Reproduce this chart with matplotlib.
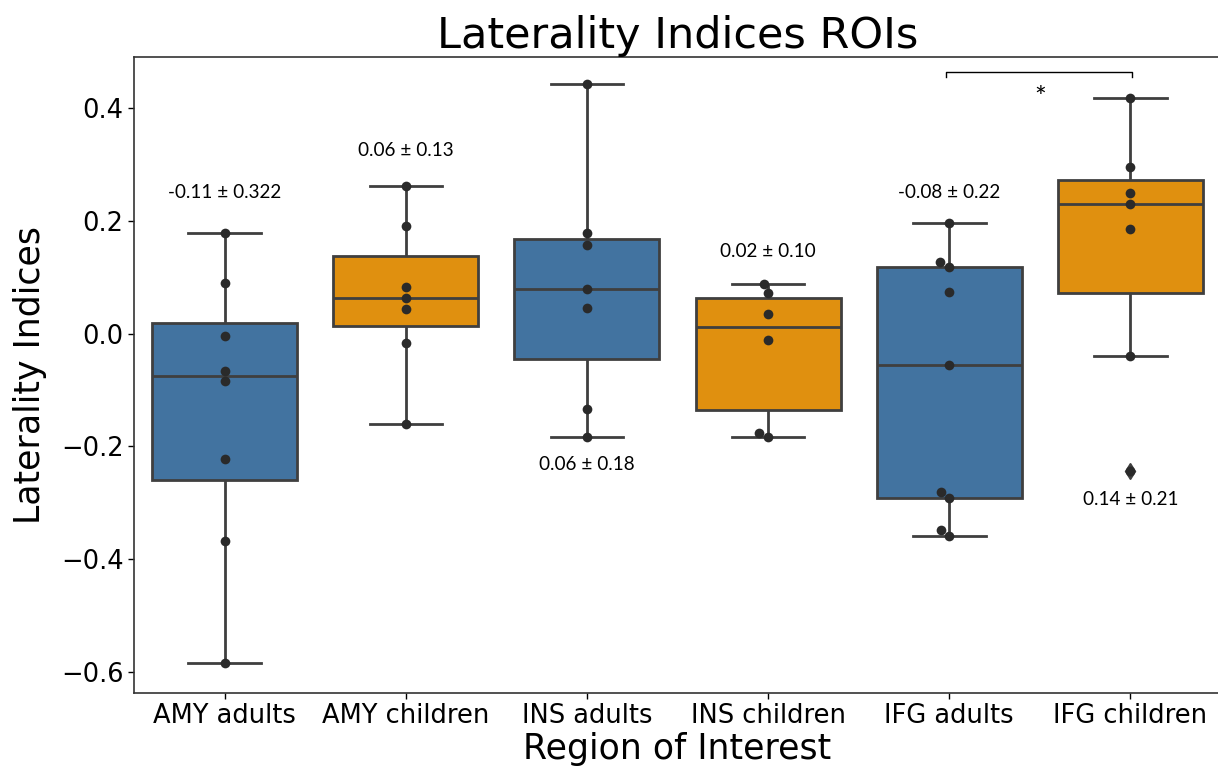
import numpy as np
import pandas as pd
import matplotlib
matplotlib.use('Agg')
import matplotlib.pyplot as plt
import seaborn as sns

# values
rois = ['AMY adults', 'AMY children', 'INS adults', 'INS children', 'IFG adults', 'IFG children']
amy_adults = [0.179, 0.090, -0.004, -0.066, -0.084, -0.223, -0.369, -0.584]
amy_children = [0.262, 0.191, 0.083, 0.063, 0.043, -0.017, -0.161]
ins_adults = [0.444, 0.179, 0.157, 0.079, 0.045, -0.134, -0.183]
ins_children = [0.089, 0.073, 0.035, -0.011, -0.176, -0.184]
ifg_adults = [0.196, 0.127, 0.119, 0.074, -0.055, -0.281, -0.291, -0.349, -0.359]
ifg_children = [0.418, 0.295, 0.250, 0.230, 0.185, -0.040, -0.243]

stats_text = ['-0.11 \u00b1 0.322', '0.06 \u00b1 0.13', '0.06 \u00b1 0.18',
              '0.02 \u00b1 0.10', '-0.08 \u00b1 0.22', '0.14 \u00b1 0.21']
stats_y = [0.250, 0.326, -0.233, 0.145, 0.250, -0.295]

blue = '#4273a0'
orange = '#e0900f'
colors = [blue, orange, blue, orange, blue, orange]

groups = [amy_adults, amy_children, ins_adults, ins_children, ifg_adults, ifg_children]
rows = []
for name, vals in zip(rois, groups):
    for v in vals:
        rows.append({'roi': name, 'li': v})
df = pd.DataFrame(rows)

fig = plt.figure(figsize=(12.18, 7.73), dpi=100)
ax = fig.add_axes([0.110, 0.1035, 0.8925, 0.8231])

sns.boxplot(data=df, x='roi', y='li', hue='roi', order=rois, hue_order=rois,
            palette=colors, saturation=1, linecolor='#3f3f3f', linewidth=2,
            width=0.8, legend=False, ax=ax,
            flierprops=dict(marker='d', markersize=8, markerfacecolor='#3f3f3f',
                            markeredgecolor='#3f3f3f'))
sns.swarmplot(data=df, x='roi', y='li', order=rois, color='#2a2a2a', size=7, ax=ax)

for i, (t, y) in enumerate(zip(stats_text, stats_y)):
    ax.text(i, y, t, ha='center', va='center', fontsize=13.6, family='Lato', color='black')

# significance bracket between IFG adults and IFG children
ax.plot([3.98, 3.98, 5.01, 5.01], [0.455, 0.464, 0.464, 0.455], color='black', lw=1)
ax.text(4.5, 0.417, '*', ha='center', va='center', fontsize=20, family='Lato')

ax.set_ylim(-0.638, 0.4916)
ax.set_xlim(-0.5, 5.5)
ax.set_yticks([-0.6, -0.4, -0.2, 0.0, 0.2, 0.4])
ax.tick_params(labelsize=18.5, length=4, width=1)
for s in ax.spines.values():
    s.set_color('#333333')
    s.set_linewidth(1.2)

ax.set_title('Laterality Indices ROIs', fontsize=31, pad=4)
ax.set_ylabel('Laterality Indices', fontsize=25)
ax.set_xlabel('Region of Interest', fontsize=25)
ax.yaxis.set_label_coords(-0.08, 0.5)
ax.xaxis.set_label_coords(0.5, -0.062)

fig.savefig('out.png', dpi=100)
